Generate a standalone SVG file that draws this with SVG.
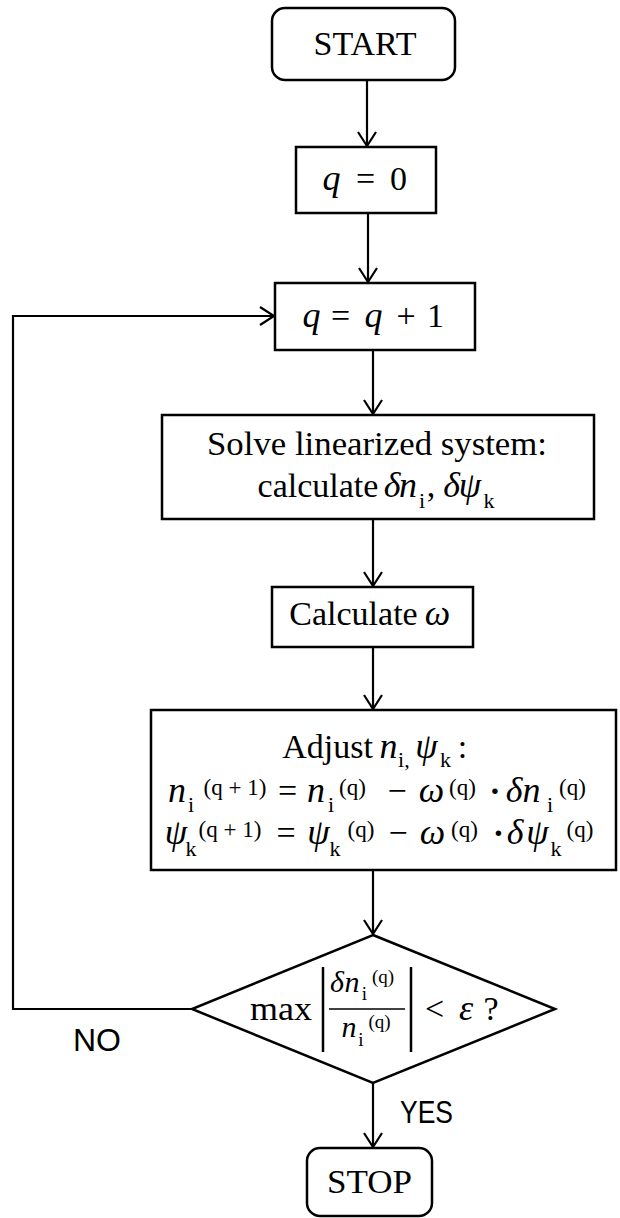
<svg xmlns="http://www.w3.org/2000/svg" width="620" height="1218" viewBox="0 0 620 1218">
<defs>
<style>
.box{fill:#fff;stroke:#000;stroke-width:2.5}
.conn{fill:none;stroke:#000;stroke-width:2.2}
.t{font-family:"Liberation Serif","Times New Roman",serif;font-size:34px;fill:#000}
.m{font-style:italic;font-size:36px}
.s{font-size:22px;font-style:normal}
.p{font-size:23px;font-style:normal}
.lbl{font-family:"Liberation Sans",Arial,sans-serif;font-size:31px;fill:#000}
</style>
<marker id="arr" viewBox="0 0 18 20" refX="15" refY="10" markerWidth="18" markerHeight="20" markerUnits="userSpaceOnUse" orient="auto">
<path d="M1,1 L15,10 L1,19" fill="none" stroke="#000" stroke-width="2.2"/>
</marker>
</defs>
<rect width="620" height="1218" fill="#fff"/>

<g id="connectors">
<path class="conn" d="M367,80 V146" marker-end="url(#arr)"/>
<path class="conn" d="M368,213 V282" marker-end="url(#arr)"/>
<path class="conn" d="M373,350 V414" marker-end="url(#arr)"/>
<path class="conn" d="M373,519 V586" marker-end="url(#arr)"/>
<path class="conn" d="M373,647 V709" marker-end="url(#arr)"/>
<path class="conn" d="M373,870 V934" marker-end="url(#arr)"/>
<path class="conn" d="M373,1083 V1147" marker-end="url(#arr)"/>
<path class="conn" d="M192,1009 H13 V316 H274" marker-end="url(#arr)"/>
<text class="lbl" x="73" y="1051" textLength="48" lengthAdjust="spacingAndGlyphs">NO</text>
<text class="lbl" x="400" y="1123" textLength="53" lengthAdjust="spacingAndGlyphs">YES</text>
</g>

<g id="start">
<rect class="box" x="272" y="8" width="183" height="72" rx="13"/>
<text class="t" x="365" y="55" text-anchor="middle" textLength="103" lengthAdjust="spacingAndGlyphs">START</text>
</g>

<g id="init">
<rect class="box" x="296" y="147" width="140" height="66"/>
<text class="t" y="190" text-anchor="middle"><tspan class="m" x="331.5">q</tspan><tspan x="365.5">=</tspan><tspan x="398.5">0</tspan></text>
</g>

<g id="increment">
<rect class="box" x="275" y="283" width="200" height="67"/>
<text class="t" y="327" text-anchor="middle"><tspan class="m" x="311.5">q</tspan><tspan x="340.5">=</tspan><tspan class="m" x="373.5">q</tspan><tspan x="406">+</tspan><tspan x="435.5">1</tspan></text>
</g>

<g id="solve">
<rect class="box" x="162" y="415" width="432" height="104"/>
<text class="t" x="377" y="455" text-anchor="middle" textLength="340" lengthAdjust="spacingAndGlyphs">Solve linearized system:</text>
<text class="t" text-anchor="middle"><tspan x="318" y="497">calculate</tspan><tspan class="m" x="392" y="497">δ</tspan><tspan class="m" x="408" y="497">n</tspan><tspan class="s" x="422" y="508">i</tspan><tspan x="431" y="497">,</tspan><tspan class="m" x="451.5" y="497">δ</tspan><tspan class="m" x="470" y="497">ψ</tspan><tspan class="s" x="489" y="508">k</tspan></text>
</g>

<g id="omega">
<rect class="box" x="272" y="587" width="201" height="60"/>
<text class="t" y="625" text-anchor="middle"><tspan x="353.5">Calculate</tspan><tspan class="m" x="437.5">ω</tspan></text>
</g>

<g id="adjust">
<rect class="box" x="151" y="710" width="465" height="160"/>
<text class="t" text-anchor="middle"><tspan x="327.5" y="758">Adjust</tspan><tspan class="m" x="388.5" y="758">n</tspan><tspan class="s" x="401" y="767">i</tspan><tspan class="s" x="407" y="767">,</tspan><tspan class="m" x="426.5" y="758">ψ</tspan><tspan class="s" x="445.5" y="767">k</tspan><tspan x="462.5" y="758">:</tspan></text>
<text class="t" text-anchor="middle"><tspan class="m" x="177" y="802">n</tspan><tspan class="s" x="191" y="812">i</tspan><tspan class="p" x="235" y="795">(q + 1)</tspan><tspan x="287.5" y="802">=</tspan><tspan class="m" x="316" y="802">n</tspan><tspan class="s" x="331" y="812">i</tspan><tspan class="p" x="352.5" y="795">(q)</tspan><tspan x="397" y="802">−</tspan><tspan class="m" x="431.5" y="802">ω</tspan><tspan class="p" x="462.5" y="795">(q)</tspan><tspan x="495" y="802" font-weight="bold">·</tspan><tspan class="m" x="514" y="802">δ</tspan><tspan class="m" x="531.5" y="802">n</tspan><tspan class="s" x="550" y="812">i</tspan><tspan class="p" x="572.5" y="795">(q)</tspan></text>
<text class="t" text-anchor="middle"><tspan class="m" x="176" y="844">ψ</tspan><tspan class="s" x="191" y="856">k</tspan><tspan class="p" x="230" y="837">(q + 1)</tspan><tspan x="286" y="844">=</tspan><tspan class="m" x="318.5" y="844">ψ</tspan><tspan class="s" x="335" y="856">k</tspan><tspan class="p" x="361" y="837">(q)</tspan><tspan x="398" y="844">−</tspan><tspan class="m" x="432.5" y="844">ω</tspan><tspan class="p" x="464.5" y="837">(q)</tspan><tspan x="498.5" y="844" font-weight="bold">·</tspan><tspan class="m" x="515" y="844">δ</tspan><tspan class="m" x="537.5" y="844">ψ</tspan><tspan class="s" x="556" y="856">k</tspan><tspan class="p" x="580" y="837">(q)</tspan></text>
</g>

<g id="check">
<polygon class="box" points="373,935 555,1009 373,1083 192,1009"/>
<text class="t" x="281" y="1020" text-anchor="middle" textLength="62" lengthAdjust="spacingAndGlyphs">max</text>
<line x1="323" y1="967" x2="323" y2="1052" stroke="#000" stroke-width="2.5"/>
<line x1="411" y1="967" x2="411" y2="1052" stroke="#000" stroke-width="2.5"/>
<line x1="329" y1="1009" x2="405" y2="1009" stroke="#000" stroke-width="1.5"/>
<text class="t" text-anchor="middle"><tspan class="m" style="font-size:30px" x="337" y="992">δ</tspan><tspan class="m" style="font-size:30px" x="352" y="992">n</tspan><tspan class="s" style="font-size:19px" x="364.5" y="1000">i</tspan><tspan class="p" style="font-size:19px" x="383" y="983">(q)</tspan></text>
<text class="t" text-anchor="middle"><tspan class="m" style="font-size:30px" x="349" y="1037">n</tspan><tspan class="s" style="font-size:19px" x="361" y="1046">i</tspan><tspan class="p" style="font-size:19px" x="379.5" y="1028">(q)</tspan></text>
<text class="t" text-anchor="middle"><tspan x="434.5" y="1020">&lt;</tspan><tspan class="m" x="466" y="1020">ε</tspan><tspan x="491" y="1020">?</tspan></text>
</g>

<g id="stop">
<rect class="box" x="307" y="1148" width="125" height="68" rx="13"/>
<text class="t" x="369.5" y="1193" text-anchor="middle" textLength="85" lengthAdjust="spacingAndGlyphs">STOP</text>
</g>
</svg>
